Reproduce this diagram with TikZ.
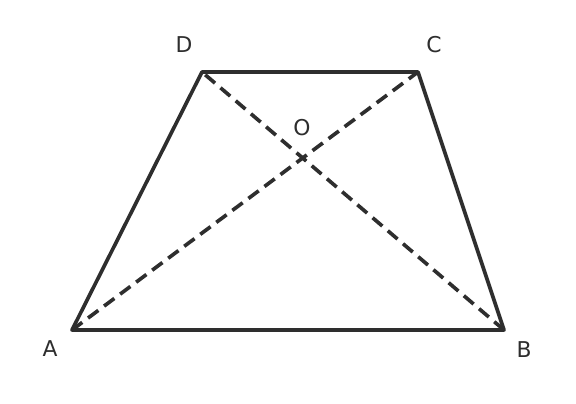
\documentclass[tikz,border=0pt]{standalone}
\usepackage{fontspec}
\setmainfont{DejaVu Sans}
\definecolor{edgegray}{HTML}{2E2E2E}

\begin{document}
\begin{tikzpicture}[x=0.025cm,y=-0.025cm,
    side/.style={line width=2.6pt,color=edgegray,line join=round},
    diag/.style={line width=2.6pt,color=edgegray,dash pattern=on 0.32cm off 0.18cm},
    lbl/.style={color=edgegray,font=\fontsize{15.5pt}{18pt}\selectfont,inner sep=0pt}]
            \useasboundingbox (0,0) rectangle (576,403);
            \coordinate (A) at (72,330);
            \coordinate (B) at (504,330);
            \coordinate (C) at (418,72);
            \coordinate (D) at (202,72);
            \draw[diag] (A)--(C);
            \draw[diag] (B)--(D);
            \draw[side] (A)--(B)--(C)--(D)--cycle;

            \node[lbl] (la) at (50,349) {A};
            \node[lbl] (lb) at (524,350) {B};
            \node[lbl] (lc) at (434,45) {C};
            \node[lbl] (ld) at (184,45) {D};
            \node[lbl] (lo) at (302,128) {O};
        \end{tikzpicture}
\end{document}
